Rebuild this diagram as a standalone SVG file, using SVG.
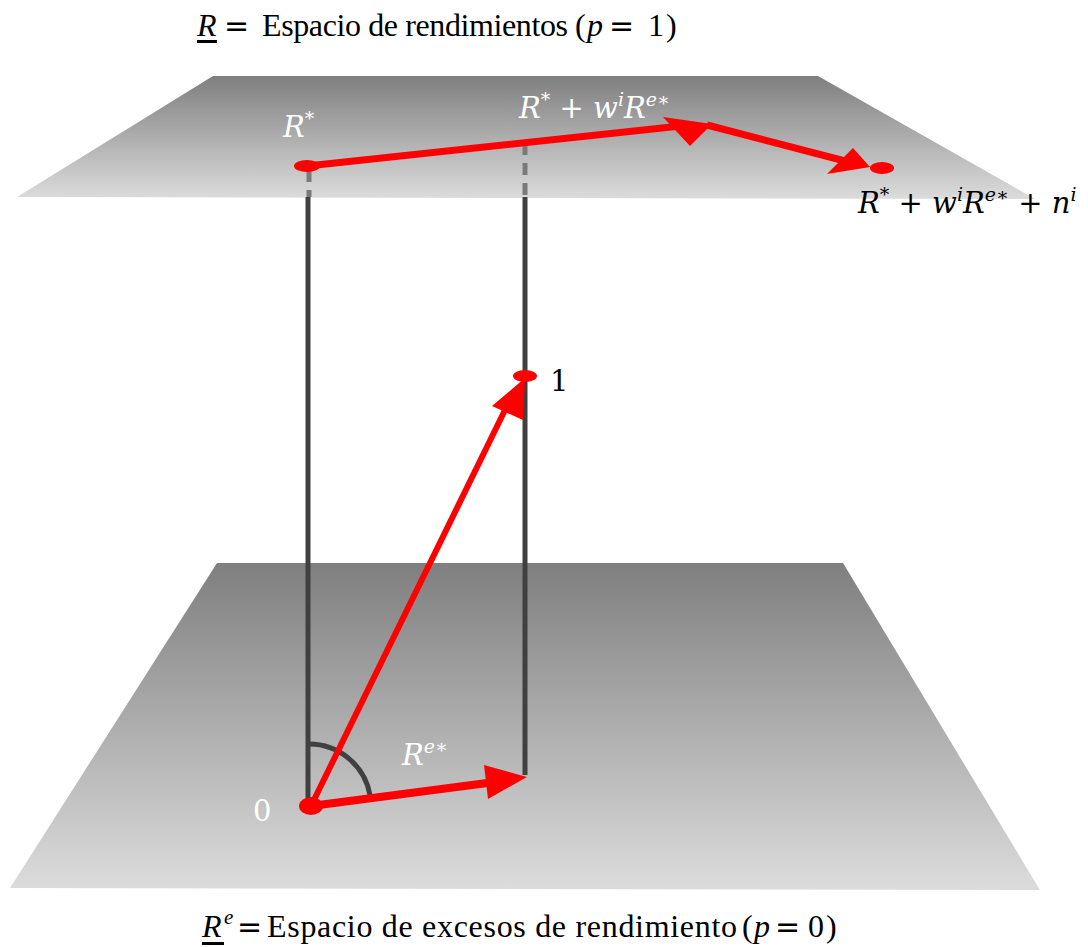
<svg xmlns="http://www.w3.org/2000/svg" width="1088" height="947" viewBox="0 0 1088 947">
<defs>
<linearGradient id="gTop" x1="0" y1="0" x2="0" y2="1"><stop offset="0" stop-color="#7f7f7f"/><stop offset="1" stop-color="#dcdcdc"/></linearGradient>
<linearGradient id="gBot" x1="0" y1="0" x2="0" y2="1"><stop offset="0" stop-color="#7f7f7f"/><stop offset="1" stop-color="#dcdcdc"/></linearGradient>
<style>
.post{stroke:#404040;stroke-width:5;fill:none}
.dash{stroke:#7a7a7a;stroke-width:5;stroke-dasharray:12 8;fill:none}
.red{stroke:#ff0000;fill:none}
.head{fill:#ff0000}
.dot{fill:#ff0000}
.title{font-family:"Liberation Serif",serif;font-size:32px;fill:#000}
.it{font-style:italic}
.eq{font-family:"DejaVu Sans",sans-serif;font-size:30px}
.m{font-family:"DejaVu Serif",serif;font-style:italic}
.lab{font-family:"DejaVu Serif",serif;font-size:29px}
.sup{font-size:19px}
</style>
</defs>
<g id="plane-top"><polygon points="213,76 818,76 1035,199 17,197" fill="url(#gTop)"/></g>
<g id="plane-bottom"><polygon points="217,563 843,563 1040,890 10,888" fill="url(#gBot)"/></g>
<g id="connectors">
<line class="dash" x1="309" y1="170" x2="309" y2="197"/>
<line class="dash" x1="525" y1="143" x2="525" y2="197"/>
<line class="post" x1="308" y1="197" x2="308" y2="806"/>
<line class="post" x1="525" y1="197" x2="525" y2="775"/>
<path class="post" d="M308,744 A62,62 0 0 1 370,795"/>
<line class="red" stroke-width="7" x1="307" y1="166" x2="690" y2="125"/>
<polygon class="head" points="712,124 663,117 690,146"/>
<line class="red" stroke-width="7" x1="707" y1="125" x2="845" y2="161"/>
<polygon class="head" points="870,167 853,148 827,174"/>
<line class="red" stroke-width="6" x1="311" y1="806" x2="505" y2="410"/>
<polygon class="head" points="525,378 492,406 523,420"/>
<line class="red" stroke-width="8" x1="311" y1="806" x2="495" y2="782"/>
<polygon class="head" points="527,777 484,765 488,799"/>
</g>
<g id="node-rstar"><ellipse class="dot" cx="307" cy="166" rx="13" ry="6"/><text class="lab m" x="283" y="137" fill="#fff">R<tspan class="sup" dy="-12">*</tspan></text></g>
<g id="node-mid"><text class="lab m" x="519" y="118" fill="#fff">R<tspan class="sup" dy="-12">*</tspan><tspan dy="12" font-style="normal"> + </tspan>w<tspan class="sup" dy="-12">i</tspan><tspan dy="12">R</tspan><tspan class="sup" dy="-12">e∗</tspan></text></g>
<g id="node-end"><ellipse class="dot" cx="882" cy="168" rx="12" ry="6"/><text class="lab m" x="858" y="213" fill="#000">R<tspan class="sup" dy="-12">*</tspan><tspan dy="12" font-style="normal"> + </tspan>w<tspan class="sup" dy="-12">i</tspan><tspan dy="12">R</tspan><tspan class="sup" dy="-12">e∗</tspan><tspan dy="12" font-style="normal"> + </tspan>n<tspan class="sup" dy="-12">i</tspan></text></g>
<g id="node-one"><ellipse class="dot" cx="525" cy="376" rx="12" ry="6"/><text class="lab" x="550" y="391" fill="#000">1</text></g>
<g id="node-zero"><ellipse class="dot" cx="311" cy="806" rx="12" ry="9"/><text class="lab" x="253" y="821" fill="#fff">0</text></g>
<g id="node-re"><text class="lab m" x="402" y="765" fill="#fff">R<tspan class="sup" dy="-12">e∗</tspan></text></g>
<g id="title-top"><text class="title" y="36"><tspan class="it" x="197">R</tspan><tspan class="eq" x="224">=</tspan><tspan x="262" textLength="306" lengthAdjust="spacing">Espacio de rendimientos</tspan><tspan x="575">(</tspan><tspan class="it" x="587">p</tspan><tspan class="eq" x="609">=</tspan><tspan x="648">1</tspan><tspan x="666">)</tspan></text><rect x="197" y="40" width="20" height="3" fill="#000"/></g>
<g id="title-bottom"><text class="title" y="937"><tspan class="it" x="202">R</tspan><tspan class="it" font-size="21" x="224" dy="-13">e</tspan><tspan class="eq" x="237" dy="13">=</tspan><tspan x="267" textLength="470" lengthAdjust="spacing">Espacio de excesos de rendimiento</tspan><tspan x="742">(</tspan><tspan class="it" x="754">p</tspan><tspan class="eq" x="775">=</tspan><tspan x="808">0</tspan><tspan x="826">)</tspan></text><rect x="202" y="942" width="22" height="3" fill="#000"/></g>
</svg>
